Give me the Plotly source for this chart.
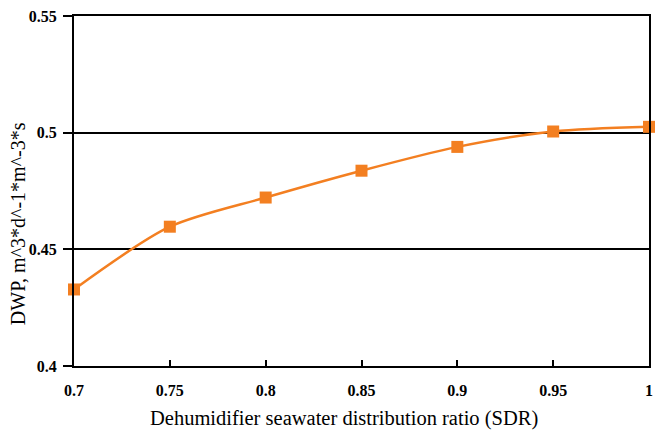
import plotly.graph_objects as go

sdr = [0.7, 0.75, 0.8, 0.85, 0.9, 0.95, 1.0]
dwp = [0.4328, 0.4597, 0.4722, 0.4837, 0.4939, 0.5005, 0.5025]
x_ticks = [0.7, 0.75, 0.8, 0.85, 0.9, 0.95, 1.0]
x_tick_labels = ["0.7", "0.75", "0.8", "0.85", "0.9", "0.95", "1"]
y_ticks = [0.4, 0.45, 0.5, 0.55]
y_tick_labels = ["0.4", "0.45", "0.5", "0.55"]
x_title = "Dehumidifier seawater distribution ratio (SDR)"
y_title = "DWP, m^3*d^-1*m^-3*s"

orange = "#F37F21"
font_family = "Liberation Serif"

fig = go.Figure()
fig.add_trace(go.Scatter(
    x=sdr, y=dwp, mode="lines+markers",
    line=dict(color=orange, width=2.5, shape="spline", smoothing=0.8),
    marker=dict(symbol="square", size=12, color=orange),
    showlegend=False, cliponaxis=False,
))

fig.update_layout(
    width=660, height=431,
    margin=dict(l=74, r=7, t=16, b=65),
    paper_bgcolor="white", plot_bgcolor="white",
    font=dict(family=font_family, color="black"),
    xaxis=dict(
        range=[0.7, 1.0], tickvals=x_ticks, ticktext=x_tick_labels,
        showgrid=False, zeroline=False,
        showline=True, linecolor="black", linewidth=2, mirror=True,
        ticks="inside", ticklen=6, tickwidth=2, tickcolor="black",
        ticklabelstandoff=9,
        tickfont=dict(family=font_family, size=16, color="black", weight="bold"),
    ),
    yaxis=dict(
        range=[0.4, 0.55], tickvals=y_ticks, ticktext=y_tick_labels,
        showgrid=True, gridcolor="black", gridwidth=1.5, zeroline=False,
        showline=True, linecolor="black", linewidth=2, mirror=True,
        ticks="outside", ticklen=9, tickwidth=2, tickcolor="black",
        ticklabelstandoff=3,
        tickfont=dict(family=font_family, size=16, color="black", weight="bold"),
    ),
    annotations=[
        dict(text=x_title, xref="paper", yref="paper", x=0.47, y=-0.149,
             xanchor="center", yanchor="middle", showarrow=False,
             font=dict(family=font_family, size=20.5, color="black")),
        dict(text=y_title, xref="paper", yref="paper", x=-0.097, y=0.406,
             xanchor="center", yanchor="middle", showarrow=False, textangle=-90,
             font=dict(family=font_family, size=20, color="black")),
    ],
)

fig.write_html("out.html")
